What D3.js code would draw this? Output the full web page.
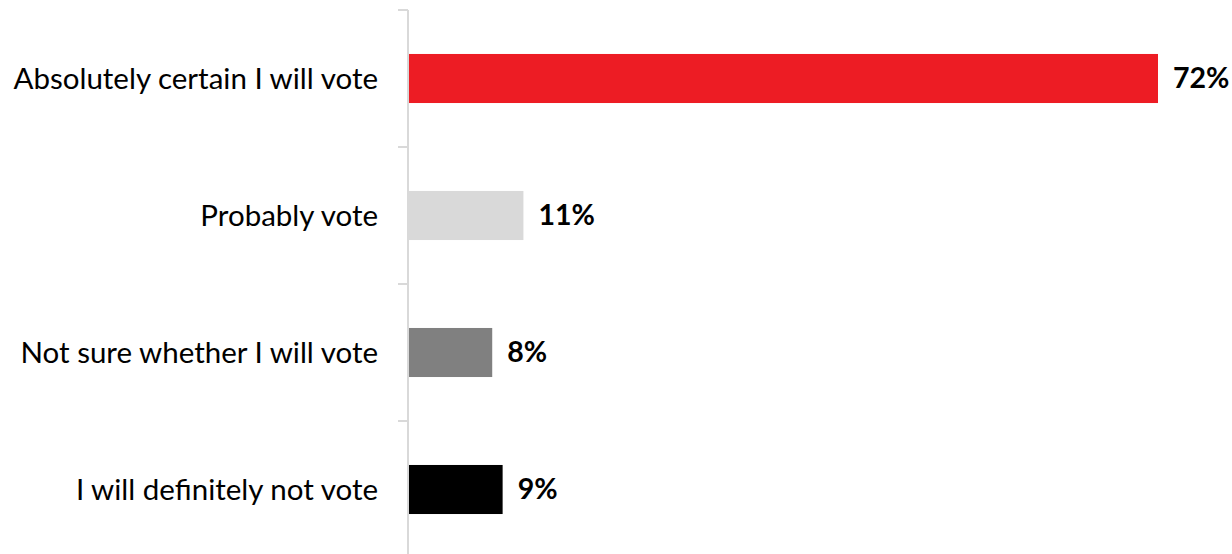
<!DOCTYPE html>
<html><head><meta charset="utf-8">
<script src="https://cdn.jsdelivr.net/npm/d3@7"></script>
<style>body{margin:0;background:#fff}svg{display:block}</style>
</head><body>
<svg id="c" width="1232" height="554"></svg>
<script>
const categories = ["Absolutely certain I will vote","Probably vote","Not sure whether I will vote","I will definitely not vote"];
const values = [72, 11, 8, 9];
const colors = ["#ed1c24","#d9d9d9","#808080","#000000"];

const svg = d3.select("#c");
const axisX = 408, yTop = 10, yBottom = 558;
const y = d3.scaleBand().domain(categories).range([yTop, yBottom]).paddingInner(0.642).paddingOuter(0.321);
const x = d3.scaleLinear().domain([0, 72]).range([axisX + 1, 1158]);
const font = "Lato, 'Open Sans', sans-serif";

svg.selectAll("rect.bar").data(categories).join("rect")
  .attr("x", x(0)).attr("y", d => y(d))
  .attr("width", (d,i) => x(values[i]) - x(0))
  .attr("height", y.bandwidth())
  .attr("fill", (d,i) => colors[i]);

const step = y.step();
svg.append("line").attr("x1", axisX).attr("x2", axisX).attr("y1", yTop).attr("y2", 554)
  .attr("stroke", "#d9d9d9").attr("stroke-width", 2);
d3.range(categories.length).forEach(i => {
  const ty = yTop + i * step;
  svg.append("line").attr("x1", axisX - 10).attr("x2", axisX).attr("y1", ty).attr("y2", ty)
    .attr("stroke", "#d9d9d9").attr("stroke-width", 2);
});

svg.selectAll("text.cat").data(categories).join("text")
  .attr("class","cat")
  .attr("x", 378).attr("y", d => y(d) + y.bandwidth()/2)
  .attr("dy", "0.35em").attr("text-anchor", "end")
  .attr("font-family", font).attr("font-size", 29.5).attr("fill", "#000")
  .text(d => d);

svg.selectAll("text.val").data(categories).join("text")
  .attr("class","val")
  .attr("x", (d,i) => x(values[i]) + 15).attr("y", d => y(d) + y.bandwidth()/2)
  .attr("dy", "0.35em")
  .attr("font-family", font).attr("font-weight", "bold").attr("font-size", 28.5).attr("fill", "#000")
  .text((d,i) => values[i] + "%");
</script>
</body></html>
